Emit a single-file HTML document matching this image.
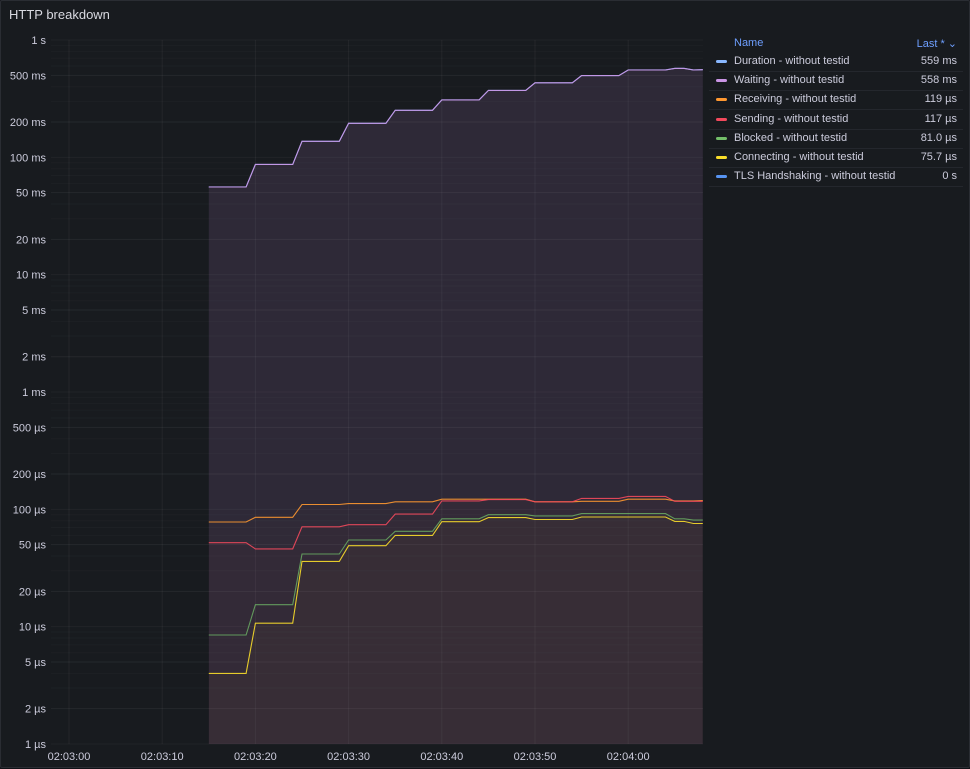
<!DOCTYPE html>
<html><head><meta charset="utf-8"><style>
body{margin:0;background:#111217;font-family:"Liberation Sans",sans-serif;}
#panel{position:absolute;left:0;top:0;width:968px;height:766px;background:#181b1f;border:1px solid #2a2d33;border-radius:2px;}
#title{position:absolute;left:8px;top:6px;font-size:13px;color:#d8d9e0;font-weight:500;}
svg{position:absolute;left:0;top:0;}
.leg{position:absolute;left:708px;width:254px;font-size:11px;color:#ccccdc;}
.row{position:absolute;left:0;width:254px;height:19px;border-bottom:1px solid #24272d;}
.sw{position:absolute;left:7px;top:8px;width:11px;height:3px;border-radius:2px;}
.nm{position:absolute;left:25px;top:3px;}
.vl{position:absolute;right:6px;top:3px;}
</style></head><body>
<div id="panel">
<div id="title">HTTP breakdown</div>
<svg id="chart" width="970" height="768"></svg>
<div class="leg" style="top:34px">
<div class="row" style="top:0;height:18px;border:none">
<span class="nm" style="color:#6e9fff;top:2px">Name</span>
<span class="vl" style="color:#6e9fff;top:2px">Last * ⌄</span></div>
<div id="rows"></div>
</div>
</div>
<script>
const times=[15,19,20,24,25,29,30,34,35,39,40,44,45,49,50,54,55,59,60,64,65,66,67,68];
const duration=[56000,56000,87000,87000,137000,137000,195000,195000,252000,252000,309000,309000,372000,372000,432000,432000,497000,497000,556000,556000,574000,574000,556000,559000];
const waiting=[55900,55900,87000,87000,137000,137000,195000,195000,252000,252000,309000,309000,372000,372000,432000,432000,497000,497000,555000,555000,573000,573000,555000,558000];
const receiving=[78,78,85.5,85.5,110,110,112,112,116,116,122,122,122,122,116,116,117,117,122,122,118,118,118,119];
const sending=[52,52,46,46,71,71,74,74,91,91,118,118,121,121,116,116,124,124,129,129,117,117,117,117];
const blocked=[8.5,8.5,15.4,15.4,41.6,41.6,54.8,54.8,65,65,83,83,90,90,88,88,92,92,92,92,83,83,81,81];
const connecting=[4,4,10.7,10.7,36,36,49,49,60,60,78.5,78.5,85,85,82,82,86,86,86,86,79,79,75.7,75.7];
const yTickLabels=["1 s","500 ms","200 ms","100 ms","50 ms","20 ms","10 ms","5 ms","2 ms","1 ms","500 µs","200 µs","100 µs","50 µs","20 µs","10 µs","5 µs","2 µs","1 µs"];
const yTickValues=[1e6,5e5,2e5,1e5,5e4,2e4,1e4,5e3,2e3,1e3,500,200,100,50,20,10,5,2,1];
const xTickSecs=[0,10,20,30,40,50,60];
const xTickLabels=["02:03:00","02:03:10","02:03:20","02:03:30","02:03:40","02:03:50","02:04:00"];
const legNames=["Duration","Waiting","Receiving","Sending","Blocked","Connecting","TLS Handshaking"];
const legLast=["559 ms","558 ms","119 µs","117 µs","81.0 µs","75.7 µs","0 s"];
const colors=["#8ab8ff","#ca95e5","#ff9830","#f2495c","#73bf69","#fade2a","#5794f2"];

const X0=50,X1=702,Y0=39,Y1=743;
const xs=t=>68+t*9.32;
const ys=v=>Y1-Math.log10(v)*117.33;
const svg=document.getElementById('chart');
const NS='http://www.w3.org/2000/svg';
function mk(tag,attrs){const e=document.createElementNS(NS,tag);for(const k in attrs)e.setAttribute(k,attrs[k]);svg.appendChild(e);return e;}
for(let d=0;d<6;d++)for(let m=2;m<10;m++){const l=mk('line',{x1:X0,x2:X1,y1:ys(Math.pow(10,d)*m),y2:ys(Math.pow(10,d)*m),stroke:'#ffffff',"stroke-opacity":0.025});

}
yTickValues.forEach((v,i)=>{const y=ys(v);
const g=mk('line',{x1:X0,x2:X1,y1:y,y2:y,stroke:'#ffffff',"stroke-opacity":0.04});


const t=mk('text',{x:45,y:y+4,"text-anchor":"end",fill:'#ccccdc',"font-size":11,"font-family":"Liberation Sans"});
t.textContent=yTickLabels[i];

});
xTickSecs.forEach((s,i)=>{const x=xs(s);
const g=mk('line',{x1:x,x2:x,y1:Y0,y2:Y1,stroke:'#ffffff',"stroke-opacity":0.05});


const t=mk('text',{x:x,y:759,"text-anchor":"middle",fill:'#ccccdc',"font-size":11,"font-family":"Liberation Sans"});
t.textContent=xTickLabels[i];

});
const series=[duration,waiting,receiving,sending,blocked,connecting];
const sNames=['duration','waiting','receiving','sending','blocked','connecting'];
const fillOp=[0.0,0.12,0.012,0.015,0.008,0.018];
series.forEach((arr,si)=>{
let pts=times.map((t,i)=>xs(t).toFixed(1)+','+ys(arr[i]).toFixed(1));
const a=mk('polygon',{points:pts.join(' ')+' '+xs(times[times.length-1]).toFixed(1)+','+Y1+' '+xs(times[0]).toFixed(1)+','+Y1,fill:colors[si],"fill-opacity":fillOp[si]});

});
series.forEach((arr,si)=>{
let pts=times.map((t,i)=>xs(t).toFixed(1)+','+ys(arr[i]).toFixed(1));
const l=mk('polyline',{points:pts.join(' '),fill:'none',stroke:colors[si],"stroke-width":1.1,"stroke-opacity":si==4?0.75:0.9});

});
const rows=document.getElementById('rows');
legNames.forEach((n,i)=>{const r=document.createElement('div');r.className='row';r.style.top=(17+i*19.2)+'px';
r.innerHTML='<span class="sw" style="background:'+colors[i]+'"></span><span class="nm">'+n+' - without testid</span><span class="vl">'+legLast[i]+'</span>';


rows.appendChild(r);});
</script>
</body></html>
